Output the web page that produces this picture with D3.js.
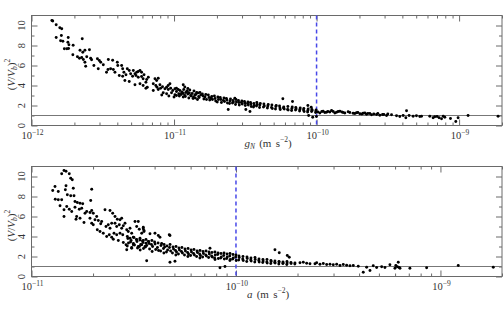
<!DOCTYPE html>
<html>
<head>
<meta charset="utf-8">
<script src="https://cdn.jsdelivr.net/npm/d3@7"></script>
<style>
body { margin: 0; background: #fff; }
svg { display: block; font-family: "Liberation Serif", "DejaVu Serif", serif; }
</style>
</head>
<body>
<script>
'use strict';

// ---- data: [acceleration (m s^-2), (V/Vb)^2] ----

const yTickValues = [0, 2, 4, 6, 8, 10];
const yMinorValues = [1, 3, 5, 7, 9];
const topDecades = [-12, -11, -10, -9];
const bottomDecades = [-11, -10, -9];
const refAccel = 1e-10;   // dashed reference line
const unityRatio = 1;     // horizontal line

// upper panel, g_N
const gNPoints = [
  [1.39e-12,10.5],[1.41e-12,10.45],[1.49e-12,10.07],[1.58e-12,9.77],[1.63e-12,9.67],[1.49e-12,8.8],
  [1.62e-12,9.0],[1.60e-12,8.47],[1.66e-12,8.43],[1.81e-12,8.8],[1.80e-12,8.33],[1.83e-12,8.07],
  [1.96e-12,8.03],[1.70e-12,7.67],[1.77e-12,7.67],[1.82e-12,7.7],[2.27e-12,8.67],[2.19e-12,7.53],
  [2.29e-12,7.33],[2.37e-12,7.53],[2.55e-12,7.57],[1.95e-12,7.07],[2.10e-12,6.87],[2.17e-12,6.73],
  [2.25e-12,6.8],[2.44e-12,6.87],[2.60e-12,6.73],[2.31e-12,6.6],[2.37e-12,6.33],[2.64e-12,6.57],
  [2.40e-12,5.93],[2.74e-12,6.0],[2.90e-12,6.67],[2.99e-12,6.5],[3.06e-12,6.33],[2.94e-12,5.67],
  [3.19e-12,6.07],[3.46e-12,6.6],[3.71e-12,6.53],[3.44e-12,5.6],[3.59e-12,5.67],[3.75e-12,5.6],
  [4.00e-12,6.33],[4.03e-12,6.0],[3.36e-12,5.33],[3.85e-12,5.33],[4.29e-12,6.0],[4.36e-12,5.67],
  [4.45e-12,5.33],[4.13e-12,5.0],[4.36e-12,4.93],[4.60e-12,5.07],[4.70e-12,5.67],[4.85e-12,5.5],
  [4.96e-12,5.17],[4.52e-12,4.5],[4.85e-12,4.4],[5.18e-12,5.5],[5.32e-12,5.17],[5.47e-12,5.33],
  [5.61e-12,5.4],[5.77e-12,5.5],[5.92e-12,5.33],[5.12e-12,4.93],[5.41e-12,5.0],[5.61e-12,4.83],
  [5.92e-12,4.9],[6.16e-12,5.07],[5.32e-12,4.07],[5.77e-12,4.17],[6.07e-12,4.0],[6.35e-12,4.33],
  [6.07e-12,4.67],[6.43e-12,4.6],[6.60e-12,4.83],[6.35e-12,3.73],[6.49e-12,3.83],[7.35e-12,4.67],
  [7.55e-12,4.5],[7.75e-12,4.73],[7.15e-12,4.17],[7.45e-12,4.0],[7.60e-12,3.83],[7.96e-12,4.07],
  [7.15e-12,3.5],[7.75e-12,3.6],[8.05e-12,3.73],[8.30e-12,3.87],[8.63e-12,3.67],[8.87e-12,3.83],
  [9.11e-12,3.6],[9.47e-12,3.73],[9.80e-12,3.5],[10.15e-12,3.67],[10.4e-12,3.4],[10.7e-12,3.6],
  [8.40e-12,3.27],[8.87e-12,3.17],[9.60e-12,3.27],[10.15e-12,3.07],[10.4e-12,3.0],[10.8e-12,3.17],
  [9.10e-12,4.0],[9.36e-12,4.17],[8.20e-12,3.05],[9.20e-12,2.95],[10.0e-12,2.85],[11.6e-12,4.07],
  [10.4e-12,3.73],[11.9e-12,3.85],[12.5e-12,3.7],
  // dense band
  [1.10e-11,3.5],[1.12e-11,3.1],[1.09e-11,2.95],[1.14e-11,3.35],[1.13e-11,3.25],[1.16e-11,2.85],
  [1.17e-11,3.6],[1.19e-11,3.0],[1.16e-11,3.2],[1.21e-11,3.3],[1.23e-11,3.45],[1.20e-11,2.9],
  [1.25e-11,3.15],[1.27e-11,2.75],[1.24e-11,3.4],[1.29e-11,3.55],[1.31e-11,3.0],[1.28e-11,3.25],
  [1.34e-11,3.2],[1.32e-11,2.95],[1.36e-11,2.7],[1.38e-11,3.45],[1.40e-11,3.05],[1.37e-11,2.85],
  [1.42e-11,3.1],[1.44e-11,3.3],[1.41e-11,2.75],[1.47e-11,3.25],[1.49e-11,2.9],[1.46e-11,2.6],
  [1.52e-11,3.3],[1.50e-11,2.8],[1.54e-11,3.05],[1.60e-11,2.95],[1.58e-11,3.15],[1.62e-11,2.65],
  [1.67e-11,3.1],[1.69e-11,2.6],[1.65e-11,2.85],[1.76e-11,2.8],[1.74e-11,3.05],[1.78e-11,2.55],
  [1.84e-11,2.9],[1.86e-11,2.6],[1.82e-11,2.75],[1.94e-11,2.7],[1.92e-11,2.95],[1.96e-11,2.45],
  [2.03e-11,2.85],[2.05e-11,2.6],[2.01e-11,2.35],[2.13e-11,2.6],[2.11e-11,2.8],[2.15e-11,2.3],
  [2.24e-11,2.75],[2.26e-11,2.4],[2.22e-11,2.5],[2.35e-11,2.55],[2.33e-11,2.7],[2.37e-11,2.25],
  [2.47e-11,2.45],[2.49e-11,2.65],[2.45e-11,2.2],[2.59e-11,2.5],[2.57e-11,2.25],[2.61e-11,2.35],
  [2.72e-11,2.6],[2.74e-11,2.35],[2.70e-11,2.1],[2.85e-11,2.3],[2.83e-11,2.5],[2.87e-11,2.05],
  [2.99e-11,2.45],[3.01e-11,2.15],[2.97e-11,2.3],[3.14e-11,2.25],[3.12e-11,2.4],[3.16e-11,2.0],
  [3.30e-11,2.35],[3.32e-11,2.05],[3.28e-11,2.2],[3.46e-11,2.15],[3.44e-11,2.3],[3.48e-11,1.9],
  [3.63e-11,2.2],[3.65e-11,2.0],[3.61e-11,1.85],[3.81e-11,2.3],[3.79e-11,1.95],[3.83e-11,2.1],
  [4.00e-11,2.05],[4.03e-11,2.2],[3.98e-11,1.8],[4.27e-11,2.15],[4.24e-11,1.85],[4.30e-11,1.95],
  [4.55e-11,1.95],[4.58e-11,2.1],[4.52e-11,1.75],[4.86e-11,2.05],[4.83e-11,1.8],[4.89e-11,1.7],
  [5.18e-11,1.9],[5.21e-11,2.0],[5.15e-11,1.65],[5.53e-11,1.75],[5.50e-11,1.95],[5.56e-11,1.6],
  [5.89e-11,1.85],[5.93e-11,1.65],[5.86e-11,1.75],[6.29e-11,1.9],[6.26e-11,1.6],[6.32e-11,1.55],
  [6.71e-11,1.7],[6.75e-11,1.85],[6.68e-11,1.5],[7.15e-11,1.8],[7.12e-11,1.55],[7.19e-11,1.65],
  [7.64e-11,1.6],[7.68e-11,1.75],[7.60e-11,1.45],[8.14e-11,1.7],[8.10e-11,1.55],[8.18e-11,1.4],
  [8.69e-11,1.5],[8.73e-11,1.65],[8.65e-11,1.35],[9.27e-11,1.6],[9.23e-11,1.4],[9.31e-11,1.5],
  [9.89e-11,1.45],[9.93e-11,1.55],[9.85e-11,1.3],
  // scattered around the band
  [2.67e-11,2.73],[5.80e-11,2.67],[6.78e-11,2.4],[2.40e-11,1.6],[3.41e-11,1.4],[3.19e-11,1.6],
  [8.69e-11,2.0],[9.17e-11,1.83],[8.80e-11,1.0],[9.40e-11,0.83],[9.98e-11,0.9],
  // high-acceleration tail
  [1.021e-10,1.35],[1.055e-10,1.25],[1.089e-10,1.4],[1.112e-10,1.43],[1.143e-10,1.3],[1.175e-10,1.33],
  [1.20e-10,1.4],[1.24e-10,1.35],[1.274e-10,1.5],[1.308e-10,1.4],[1.344e-10,1.25],[1.382e-10,1.33],
  [1.419e-10,1.4],[1.457e-10,1.43],[1.505e-10,1.35],[1.536e-10,1.3],[1.579e-10,1.25],[1.666e-10,1.37],
  [1.712e-10,1.3],[1.806e-10,1.23],[1.856e-10,1.2],[1.908e-10,1.27],[1.948e-10,1.3],[2.012e-10,1.17],
  [2.079e-10,1.15],[2.123e-10,1.23],[2.182e-10,1.25],[2.242e-10,1.13],[2.29e-10,1.2],[2.364e-10,1.2],
  [2.43e-10,1.07],[2.52e-10,1.15],[2.635e-10,1.1],[2.69e-10,1.2],[2.78e-10,1.03],[2.904e-10,1.1],
  [2.965e-10,1.1],[3.097e-10,1.0],[3.16e-10,1.15],[3.357e-10,1.07],[3.639e-10,0.97],[3.838e-10,0.9],
  [4.05e-10,1.0],[4.23e-10,0.77],[4.278e-10,1.47],[4.46e-10,1.0],[4.758e-10,0.93],[5.02e-10,0.97],
  [5.302e-10,0.9],[5.45e-10,0.93],[6.23e-10,0.93],[6.57e-10,0.77],[6.75e-10,0.87],[7.01e-10,0.9],
  [7.24e-10,0.77],[7.53e-10,0.67],[7.74e-10,0.93],[7.94e-10,0.83],[8.70e-10,0.7],[9.48e-10,0.4],
  [9.84e-10,0.77],[1.156e-9,1.0],[1.877e-9,0.93]
];

// lower panel, a
const aPoints = [
  [1.442e-11,10.6],[1.475e-11,10.53],[1.530e-11,10.27],[1.405e-11,10.27],[1.555e-11,9.83],[1.583e-11,9.67],
  [1.475e-11,9.07],[1.464e-11,8.67],[1.303e-11,9.0],[1.270e-11,8.6],[1.352e-11,8.5],[1.601e-11,8.83],
  [1.497e-11,8.17],[1.555e-11,8.07],[1.614e-11,8.07],[1.307e-11,7.73],[1.352e-11,7.67],[1.405e-11,7.67],
  [1.379e-11,7.07],[1.487e-11,7.0],[1.442e-11,6.67],[1.530e-11,6.73],[1.573e-11,6.5],[1.442e-11,6.0],
  [1.970e-11,8.73],[1.948e-11,7.6],[1.632e-11,7.5],[1.675e-11,7.4],[1.727e-11,7.33],[1.780e-11,7.27],
  [1.632e-11,6.93],[1.713e-11,6.73],[1.760e-11,6.83],[1.663e-11,6.0],[1.727e-11,5.83],[1.651e-11,5.73],
  [1.827e-11,6.33],[1.862e-11,6.5],[1.932e-11,6.4],[1.970e-11,6.6],[2.005e-11,6.33],[1.806e-11,5.4],
  [1.932e-11,5.83],[2.044e-11,5.67],[2.084e-11,6.0],[1.970e-11,5.33],[2.005e-11,5.17],[2.122e-11,5.6],
  [2.180e-11,5.27],[2.204e-11,5.5],[2.288e-11,6.67],[2.421e-11,6.6],[2.495e-11,6.33],[2.098e-11,4.67],
  [2.163e-11,4.5],[2.244e-11,4.33],[2.314e-11,5.0],[2.374e-11,5.17],[2.421e-11,4.83],[2.467e-11,5.33],
  [2.561e-11,6.0],[2.628e-11,5.73],[2.709e-11,5.67],[2.761e-11,5.83],[2.332e-11,4.0],[2.401e-11,4.17],
  [2.467e-11,3.93],[2.561e-11,5.33],[2.610e-11,5.0],[2.688e-11,5.17],[2.761e-11,4.83],[2.812e-11,5.07],
  [2.866e-11,5.33],[2.922e-11,4.67],[2.974e-11,4.5],[3.032e-11,4.83],[3.090e-11,4.33],[3.208e-11,5.5],
  [3.328e-11,5.5],[2.532e-11,4.33],[2.610e-11,4.17],[2.709e-11,4.33],[2.793e-11,4.17],[2.512e-11,3.73],
  [2.658e-11,3.6],[2.812e-11,3.4],[2.899e-11,3.17],[2.942e-11,4.0],[3.032e-11,3.83],[3.147e-11,3.93],
  [3.269e-11,3.67],[3.393e-11,3.83],[3.522e-11,3.6],[3.630e-11,3.33],[3.725e-11,3.5],[3.147e-11,3.17],
  [3.328e-11,3.0],[3.459e-11,3.17],[3.589e-11,3.0],[2.922e-11,2.67],[3.090e-11,2.83],[3.269e-11,5.0],
  [3.366e-11,4.73],[3.459e-11,4.33],[3.549e-11,4.5],[3.659e-11,1.57],[3.522e-11,4.77],[3.549e-11,4.6],
  [3.797e-11,4.27],[4.017e-11,4.33],[4.249e-11,3.93],[4.718e-11,4.17],[4.170e-11,4.1],[4.756e-11,4.1],
  [3.522e-11,4.93],[4.756e-11,1.43],[5.031e-11,1.53],[8.351e-11,0.87],[8.835e-11,1.0],[7.462e-11,2.83],
  // dense band
  [2.96e-11,3.8],[2.98e-11,3.35],[2.94e-11,3.05],[3.07e-11,3.6],[3.05e-11,3.45],[3.09e-11,2.9],
  [3.17e-11,3.9],[3.19e-11,3.15],[3.15e-11,3.3],[3.28e-11,3.5],[3.26e-11,3.7],[3.30e-11,2.85],
  [3.39e-11,3.65],[3.42e-11,3.2],[3.37e-11,3.0],[3.40e-11,2.65],[3.51e-11,3.4],[3.49e-11,3.55],
  [3.53e-11,2.8],[3.63e-11,3.7],[3.66e-11,3.1],[3.61e-11,2.95],[3.76e-11,3.3],[3.74e-11,3.5],
  [3.78e-11,2.75],[3.88e-11,3.6],[3.91e-11,3.0],[3.86e-11,3.2],[3.89e-11,2.5],[4.02e-11,3.25],
  [4.00e-11,3.45],[4.05e-11,2.7],[4.16e-11,3.35],[4.13e-11,2.9],[4.18e-11,2.6],[4.30e-11,3.1],
  [4.33e-11,3.3],[4.28e-11,2.55],[4.45e-11,3.2],[4.42e-11,2.8],[4.48e-11,2.95],[4.44e-11,2.35],
  [4.60e-11,3.05],[4.63e-11,2.65],[4.57e-11,2.45],[4.76e-11,3.2],[4.73e-11,2.9],[4.79e-11,2.55],
  [4.92e-11,2.95],[4.95e-11,2.75],[4.89e-11,2.35],[5.09e-11,3.0],[5.06e-11,2.6],[5.12e-11,2.45],
  [5.08e-11,2.15],[5.26e-11,2.85],[5.29e-11,2.65],[5.23e-11,2.25],[5.44e-11,2.9],[5.41e-11,2.5],
  [5.47e-11,2.35],[5.63e-11,2.75],[5.66e-11,2.55],[5.60e-11,2.15],[5.83e-11,2.8],[5.80e-11,2.4],
  [5.86e-11,2.25],[5.82e-11,2.0],[6.03e-11,2.65],[6.06e-11,2.45],[6.00e-11,2.1],[6.23e-11,2.7],
  [6.20e-11,2.3],[6.26e-11,2.15],[6.45e-11,2.55],[6.48e-11,2.4],[6.42e-11,2.0],[6.67e-11,2.6],
  [6.64e-11,2.25],[6.70e-11,2.1],[6.66e-11,1.85],[6.90e-11,2.5],[6.93e-11,2.3],[6.87e-11,1.95],
  [7.14e-11,2.55],[7.11e-11,2.15],[7.17e-11,2.05],[7.38e-11,2.45],[7.41e-11,2.25],[7.35e-11,1.9],
  [7.63e-11,2.4],[7.60e-11,2.05],[7.66e-11,1.95],[7.89e-11,2.45],[7.92e-11,2.15],[7.86e-11,1.85],
  [7.90e-11,1.7],[8.17e-11,2.35],[8.14e-11,2.2],[8.20e-11,1.8],[8.45e-11,2.3],[8.48e-11,1.95],
  [8.42e-11,1.85],[8.74e-11,2.35],[8.71e-11,2.1],[8.77e-11,1.75],[9.04e-11,2.25],[9.07e-11,1.95],
  [9.01e-11,1.8],[9.35e-11,2.3],[9.32e-11,2.05],[9.38e-11,1.7],[9.34e-11,1.6],[9.67e-11,2.2],
  [9.70e-11,1.85],[9.64e-11,1.75],[1.000e-10,2.15],[0.997e-10,1.95],[1.003e-10,1.6],[1.034e-10,2.05],
  [1.037e-10,1.9],[1.031e-10,1.65],[1.082e-10,2.0],[1.079e-10,1.75],[1.085e-10,1.6],[1.132e-10,1.95],
  [1.135e-10,1.8],[1.129e-10,1.5],[1.184e-10,1.85],[1.181e-10,1.65],[1.187e-10,1.55],[1.239e-10,1.9],
  [1.242e-10,1.7],[1.236e-10,1.45],[1.296e-10,1.75],[1.293e-10,1.6],[1.299e-10,1.45],[1.355e-10,1.7],
  [1.358e-10,1.55],[1.352e-10,1.4],[1.418e-10,1.7],[1.415e-10,1.45],[1.421e-10,1.35],[1.483e-10,1.6],
  [1.486e-10,1.5],[1.480e-10,1.3],[1.551e-10,1.55],[1.548e-10,1.4],[1.554e-10,1.35],[1.623e-10,1.5],
  [1.626e-10,1.45],[1.620e-10,1.25],[1.698e-10,1.45],[1.695e-10,1.3],[1.701e-10,1.35],[1.776e-10,1.5],
  [1.779e-10,1.35],[1.773e-10,1.2],[1.857e-10,1.4],[1.860e-10,1.3],[1.943e-10,1.35],[1.940e-10,1.25],
  // scattered and tail
  [1.551e-10,2.67],[1.628e-10,2.37],[1.782e-10,2.1],[1.822e-10,1.93],
  [2.056e-10,1.37],[2.134e-10,1.43],[2.217e-10,1.33],[2.301e-10,1.27],[2.434e-10,1.27],[2.481e-10,1.37],
  [2.575e-10,1.23],[2.673e-10,1.3],[2.777e-10,1.2],[2.883e-10,1.23],[2.992e-10,1.17],[3.108e-10,1.23],
  [3.226e-10,1.1],[3.348e-10,1.2],[3.478e-10,1.13],[3.61e-10,1.07],[3.747e-10,1.1],[3.963e-10,1.03],
  [4.193e-10,0.43],[4.356e-10,0.93],[4.522e-10,0.6],[4.692e-10,1.07],[4.875e-10,0.9],[5.158e-10,0.97],
  [5.353e-10,0.9],[5.66e-10,1.17],[5.991e-10,0.83],[6.05e-10,1.1],[6.15e-10,0.97],[6.22e-10,1.43],
  [6.28e-10,0.9],[6.34e-10,0.83],[7.09e-10,0.83],[8.56e-10,0.87],[1.222e-9,1.1],[1.813e-9,0.93]
];

// ---- drawing ----

const width = 503, height = 314;
const left = 31.5, right = 502;
const frameColor = '#6a6a6a';

const svg = d3.select('body').append('svg')
  .attr('width', width)
  .attr('height', height);

const panels = [
  { points: gNPoints, xDomain: [1e-12, 2e-9], decades: topDecades, top: 15.5, bottom: 125.5, title: 'gN' },
  { points: aPoints, xDomain: [1e-11, 2e-9], decades: bottomDecades, top: 166.5, bottom: 276.5, title: 'a' }
];

panels.forEach(function(p) {
  const x = d3.scaleLog().domain(p.xDomain).range([left, right]);
  const y = d3.scaleLinear().domain([0, 11]).range([p.bottom, p.top]);
  const g = svg.append('g');

  const majors = p.decades.map(e => Math.pow(10, e));
  const minors = x.ticks().filter(v => !majors.some(m => Math.abs(v / m - 1) < 1e-6));

  // inward ticks on all four sides
  function ticks(axis, values, size, transform) {
    g.append('g')
      .attr('transform', transform)
      .call(axis.tickValues(values).tickSize(size).tickSizeOuter(0).tickFormat(''))
      .call(s => s.select('.domain').remove())
      .selectAll('line').attr('stroke', frameColor);
  }
  ticks(d3.axisBottom(x), majors, -6, `translate(0,${p.bottom})`);
  ticks(d3.axisBottom(x), minors, -3, `translate(0,${p.bottom})`);
  ticks(d3.axisTop(x), majors, -6, `translate(0,${p.top})`);
  ticks(d3.axisTop(x), minors, -3, `translate(0,${p.top})`);
  ticks(d3.axisLeft(y), yTickValues, -6, `translate(${left},0)`);
  ticks(d3.axisLeft(y), yMinorValues, -3, `translate(${left},0)`);
  ticks(d3.axisRight(y), yTickValues, -6, `translate(${right},0)`);
  ticks(d3.axisRight(y), yMinorValues, -3, `translate(${right},0)`);

  g.append('rect')
    .attr('x', left).attr('y', p.top)
    .attr('width', right - left).attr('height', p.bottom - p.top)
    .attr('fill', 'none').attr('stroke', frameColor);

  // (V/Vb)^2 = 1
  g.append('line')
    .attr('x1', left).attr('x2', right)
    .attr('y1', y(unityRatio)).attr('y2', y(unityRatio))
    .attr('stroke', '#777').attr('stroke-width', 1.1);

  // reference acceleration
  g.append('line')
    .attr('x1', x(refAccel)).attr('x2', x(refAccel))
    .attr('y1', p.top).attr('y2', p.bottom)
    .attr('stroke', '#4848e8').attr('stroke-width', 1.5)
    .attr('stroke-dasharray', '4,3');

  g.append('g').selectAll('circle')
    .data(p.points)
    .join('circle')
    .attr('cx', d => x(d[0]))
    .attr('cy', d => y(d[1]))
    .attr('r', 1.45)
    .attr('fill', '#000');

  // x tick labels 10^n
  p.decades.forEach(function(e) {
    const t = g.append('text')
      .attr('x', x(Math.pow(10, e)) + 1)
      .attr('y', p.bottom + 13.5)
      .attr('text-anchor', 'middle')
      .attr('font-size', 10.5)
      .attr('fill', '#333');
    t.append('tspan').text('10');
    t.append('tspan').attr('dy', -4.5).attr('font-size', 7.5).text('\u2212' + (-e));
  });

  // y tick labels, rotated
  yTickValues.forEach(function(v) {
    g.append('text')
      .attr('transform', `translate(24.5,${y(v)}) rotate(-90)`)
      .attr('text-anchor', 'middle')
      .attr('font-size', 10.5)
      .attr('fill', '#333')
      .text(v);
  });

  // y title (V/Vb)^2
  const yt = g.append('text')
    .attr('transform', `translate(14.5,${(p.top + p.bottom) / 2 + 4}) rotate(-90)`)
    .attr('text-anchor', 'middle')
    .attr('font-size', 11)
    .attr('fill', '#333');
  yt.append('tspan').text('(');
  yt.append('tspan').attr('font-style', 'italic').text('V');
  yt.append('tspan').text('/');
  yt.append('tspan').attr('font-style', 'italic').text('V');
  yt.append('tspan').attr('dy', 2.5).attr('font-size', 7.5).attr('font-style', 'italic').text('b');
  yt.append('tspan').attr('dy', -2.5).text(')');
  yt.append('tspan').attr('dy', -5).attr('font-size', 7.5).text('2');

  // x title
  const xt = g.append('text')
    .attr('x', 268)
    .attr('y', p.bottom + 21)
    .attr('text-anchor', 'middle')
    .attr('font-size', 11)
    .attr('fill', '#333')
    .attr('word-spacing', 1.5);
  if (p.title === 'gN') {
    xt.append('tspan').attr('font-style', 'italic').text('g');
    xt.append('tspan').attr('dy', 2.5).attr('font-size', 7.5).attr('font-style', 'italic').text('N');
    xt.append('tspan').attr('dy', -2.5).text(' (m s');
  } else {
    xt.append('tspan').attr('font-style', 'italic').text('a');
    xt.append('tspan').text(' (m s');
  }
  xt.append('tspan').attr('dy', -4.5).attr('font-size', 7.5).text('\u22122');
  xt.append('tspan').attr('dy', 4.5).text(')');
});
</script>
</body>
</html>
